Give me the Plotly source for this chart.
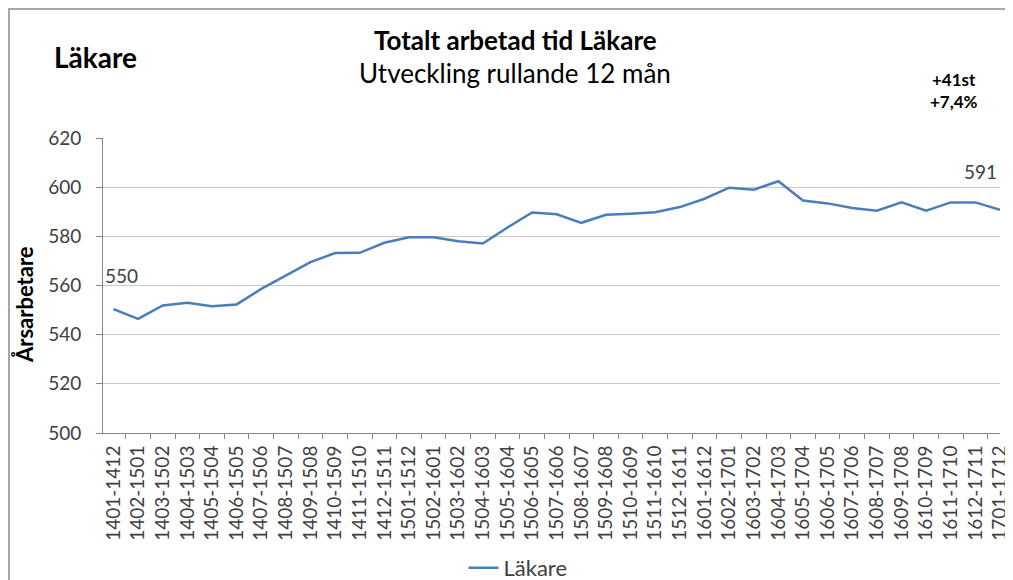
import plotly.graph_objects as go

categories = [
    "1401-1412", "1402-1501", "1403-1502", "1404-1503", "1405-1504", "1406-1505",
    "1407-1506", "1408-1507", "1409-1508", "1410-1509", "1411-1510", "1412-1511",
    "1501-1512", "1502-1601", "1503-1602", "1504-1603", "1505-1604", "1506-1605",
    "1507-1606", "1508-1607", "1509-1608", "1510-1609", "1511-1610", "1512-1611",
    "1601-1612", "1602-1701", "1603-1702", "1604-1703", "1605-1704", "1606-1705",
    "1607-1706", "1608-1707", "1609-1708", "1610-1709", "1611-1710", "1612-1711",
    "1701-1712",
]
lakare = [
    550.4, 546.4, 551.9, 553.0, 551.6, 552.3,
    558.6, 564.0, 569.5, 573.2, 573.3, 577.4,
    579.6, 579.6, 578.0, 577.1, 583.6, 589.7,
    589.0, 585.5, 588.8, 589.2, 589.8, 591.9,
    595.3, 599.8, 599.0, 602.4, 594.6, 593.4,
    591.5, 590.4, 593.8, 590.4, 593.8, 593.8,
    590.8,
]
first_label = "550"
last_label = "591"
yticks = [500, 520, 540, 560, 580, 600, 620]

FONT = "Lato"
OFF = 8  # page body margin
W, H = 1013 - OFF, 580 - OFF
L, R, T, B = 103 - OFF, 1000 - OFF, 138 - OFF, 433 - OFF


def px(x):
    return (x - OFF - L) / (R - L)


def py(y):
    return (B - (y - OFF)) / (B - T)


fig = go.Figure()
fig.add_trace(go.Scatter(
    x=categories, y=lakare, mode="lines", name="Läkare",
    line=dict(color="#4A7EBB", width=2.5),
))

annotations = [
    dict(text="<b>Totalt arbetad tid Läkare</b>", x=px(515), y=py(40), font=dict(size=26, color="#000000")),
    dict(text="Utveckling rullande 12 mån", x=px(515), y=py(73), font=dict(size=26, color="#000000")),
    dict(text="<b>Läkare</b>", x=px(95), y=py(57), font=dict(size=28, color="#000000")),
    dict(text="<b>+41st</b>", x=px(954), y=py(79), font=dict(size=17, color="#000000")),
    dict(text="<b>+7,4%</b>", x=px(954), y=py(102), font=dict(size=17, color="#000000")),
    dict(text="<b>Årsarbetare</b>", x=px(24), y=py(305), textangle=-90, font=dict(size=22, color="#000000")),
]
for a in annotations:
    a.update(xref="paper", yref="paper", showarrow=False, xanchor="center", yanchor="middle",
             font=dict(family=FONT, **a["font"]))

annotations.append(dict(x=categories[0], y=lakare[0], xref="x", yref="y", text=first_label,
                        showarrow=False, xshift=8, yshift=34,
                        font=dict(family=FONT, size=19, color="#404040")))
annotations.append(dict(x=categories[-1], y=lakare[-1], xref="x", yref="y", text=last_label,
                        showarrow=False, xshift=-20, yshift=38,
                        font=dict(family=FONT, size=19, color="#404040")))

fig.update_layout(
    width=W, height=H,
    margin=dict(l=L, r=W - R, t=T, b=H - B, pad=0, autoexpand=False),
    paper_bgcolor="white", plot_bgcolor="white",
    font=dict(family=FONT, color="#404040"),
    annotations=annotations,
    showlegend=True,
    legend=dict(orientation="h", x=px(518), xanchor="center", y=py(568), yanchor="middle",
                font=dict(family=FONT, size=22, color="#404040"), itemwidth=30),
    shapes=[dict(type="rect", xref="paper", yref="paper",
                 x0=px(OFF + 1), x1=px(1007), y0=py(640), y1=py(OFF + 1),
                 line=dict(color="#a6a6a6", width=2), fillcolor="rgba(0,0,0,0)", layer="below")],
)
fig.update_xaxes(
    type="category", tickangle=-90, tickson="boundaries",
    ticks="outside", ticklen=5, tickcolor="#868686",
    showline=True, linecolor="#868686", linewidth=1, automargin=False,
    showgrid=False, tickfont=dict(family=FONT, size=19, color="#404040"),
    ticklabelstandoff=4,
)
fig.update_yaxes(
    range=[500, 620], tickvals=yticks, ticks="outside", ticklen=6, tickcolor="#868686",
    showline=True, linecolor="#868686", linewidth=1, automargin=False,
    showgrid=True, gridcolor="#c8c8c8", gridwidth=1, zeroline=False,
    tickfont=dict(family=FONT, size=19, color="#404040"), ticklabelstandoff=11,
)

fig.write_html("out.html")
